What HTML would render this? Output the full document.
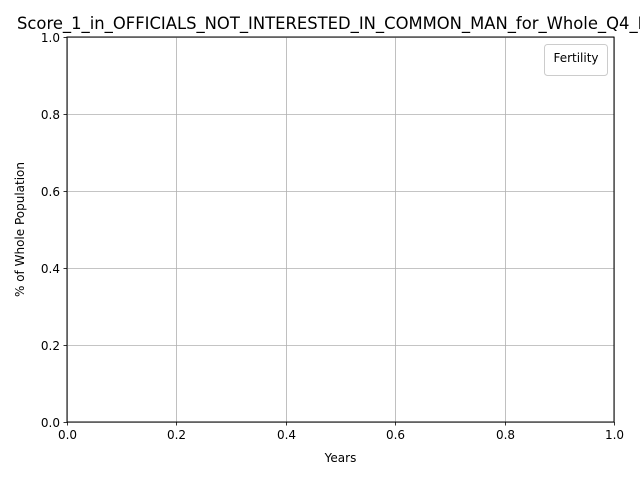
<!DOCTYPE html>
<html><head><meta charset="utf-8"><style>
html,body{margin:0;padding:0;background:#fff;width:640px;height:480px;overflow:hidden}
svg{display:block;font-family:"DejaVu Sans","Liberation Sans",sans-serif}
</style></head><body>
<svg id="chart" width="640" height="480" viewBox="0 0 640 480">
<text x="17" y="29" font-size="16.4" fill="#000">Score_1_in_OFFICIALS_NOT_INTERESTED_IN_COMMON_MAN_for_Whole_Q4_Fertility</text>
<g id="grid"></g>
<rect x="67" y="37" width="547" height="385" fill="none" stroke="#000" stroke-width="1"/>
<g id="ticks"></g>
<text x="340.5" y="462" font-size="12" text-anchor="middle">Years</text>
<text x="24" y="229.5" font-size="12" text-anchor="middle" transform="rotate(-90 24 229.5)">% of Whole Population</text>
<g>
<rect x="544.5" y="44.5" width="63" height="31" rx="3" fill="#fff" stroke="#ccc"/>
<text x="576" y="62" font-size="12" text-anchor="middle">Fertility</text>
</g>
</svg>
<script>
const xTicks = [0.0, 0.2, 0.4, 0.6, 0.8, 1.0];
const yTicks = [0.0, 0.2, 0.4, 0.6, 0.8, 1.0];
const xDomain = [0, 1];
const yDomain = [0, 1];
const X0 = 67, X1 = 614, Y0 = 422, Y1 = 37;
function xs(v){ return X0 + (v - xDomain[0]) / (xDomain[1] - xDomain[0]) * (X1 - X0); }
function ys(v){ return Y0 - (v - yDomain[0]) / (yDomain[1] - yDomain[0]) * (Y0 - Y1); }
const NS = "http://www.w3.org/2000/svg";
const grid = document.getElementById('grid');
const ticks = document.getElementById('ticks');
function mk(tag, attrs, parent){ const e = document.createElementNS(NS, tag); for (const k in attrs) e.setAttribute(k, attrs[k]); parent.appendChild(e); return e; }
xTicks.forEach(v => {
  const x = Math.round(xs(v)) + 0.5;
  const g = mk('line', {x1:x, x2:x, y1:Y1, y2:Y0, stroke:'#b0b0b0', 'stroke-width':0.8}, grid);
  
  
  const t = mk('line', {x1:x, x2:x, y1:Y0, y2:Y0 + 3.5, stroke:'#000', 'stroke-width':0.8}, ticks);
  
  
  const l = mk('text', {x:x, y:Y0 + 17, 'font-size':12, 'text-anchor':'middle'}, ticks);
  l.textContent = v.toFixed(1);
  
  
});
yTicks.forEach(v => {
  const y = Math.round(ys(v)) + 0.5;
  const g = mk('line', {x1:X0, x2:X1, y1:y, y2:y, stroke:'#b0b0b0', 'stroke-width':0.8}, grid);
  
  
  const t = mk('line', {x1:X0 - 3.5, x2:X0, y1:y, y2:y, stroke:'#000', 'stroke-width':0.8}, ticks);
  
  
  const l = mk('text', {x:X0 - 7, y:y + 4.5, 'font-size':12, 'text-anchor':'end'}, ticks);
  l.textContent = v.toFixed(1);
  
  
});
</script>
</body></html>
